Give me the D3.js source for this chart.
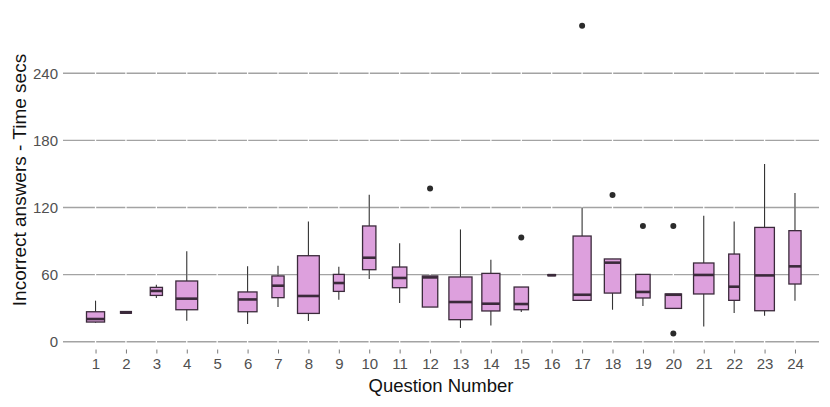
<!DOCTYPE html>
<html>
<head>
<meta charset="utf-8">
<script src="https://cdn.jsdelivr.net/npm/d3@7"></script>
<style>
  body { margin: 0; background: #fff; }
  text { font-family: "Liberation Sans", Arial, sans-serif; }
</style>
</head>
<body>
<figure id="chart" style="margin:0"></figure>
<script>
// data (seconds); null = no answers for that question
var questions = d3.range(1, 25);
var counts   = [11, 4, 5, 16, 0, 12, 5, 16, 4, 6, 7, 8, 18, 11, 7, 2, 11, 9, 7, 9, 14, 4, 13, 5];
var whiskLo  = [17, 25.5, 39, 18.8, null, 15.8, 31, 18.5, 37.6, 56, 34.6, 31, 12.3, 14.6, 26.6, 59, 37, 28.6, 32, 29.8, 13.7, 25.7, 23.3, 36.7];
var q1       = [17.6, 25.5, 41.4, 28.6, null, 26.8, 39.4, 25.3, 45, 64.4, 48.3, 31, 19.7, 27.5, 28.6, 59, 37, 43.5, 39.1, 29.8, 42.7, 37, 27.7, 51.6];
var medians  = [20.3, 26, 45.4, 38.5, null, 37.8, 50.1, 40.9, 52.5, 75.1, 57, 57.5, 35.5, 34, 33.7, 59.5, 42, 70.7, 44.5, 42, 59.7, 49.2, 59.3, 67.4];
var q3       = [26.8, 27, 48.6, 54.3, null, 44.5, 58.8, 76.9, 60.2, 103.5, 66.8, 58.8, 57.9, 61.1, 48.9, 60, 94.5, 74, 60.2, 42.7, 70.4, 78.4, 102.2, 99.3];
var whiskHi  = [36.7, 27, 51, 81, null, 67.4, 68, 107.6, 67, 131.5, 88, 58.8, 100.4, 73.3, 48.9, 60, 120, 74, 60.2, 42.7, 112.7, 107.6, 159, 133];
var outliers = [
    { q: 12, v: 136.9 },
    { q: 15, v: 93.3 },
    { q: 17, v: 282.6 },
    { q: 18, v: 131.2 },
    { q: 19, v: 103.5 },
    { q: 20, v: 103.5 },
    { q: 20, v: 7.4 }
];
var yTicks = [0, 60, 120, 180, 240];

var boxes = questions.map(function(q, i) {
    return { q: q, n: counts[i], lo: whiskLo[i], q1: q1[i], med: medians[i], q3: q3[i], hi: whiskHi[i] };
}).filter(d => d.n > 0);

var dimensions = { width: 830, height: 407, left: 63, right: 819, top: 10, bottom: 350 };

var svg = d3.select("figure#chart")
    .append("svg")
    .attr("width", dimensions.width)
    .attr("height", dimensions.height);

var xScale = d3.scaleLinear()
    .domain([-0.07, 24.79])
    .range([dimensions.left, dimensions.right]);

var yScale = d3.scaleLinear()
    .domain([-7.4, 296.6])
    .range([dimensions.bottom, dimensions.top]);

var step = xScale(2) - xScale(1);
var widthScale = d3.scaleSqrt()
    .domain([0, d3.max(counts)])
    .range([0, step * 0.76]);

// horizontal grid
svg.append("g")
    .selectAll("line")
    .data(yTicks)
    .enter()
    .append("line")
    .attr("x1", dimensions.left)
    .attr("x2", dimensions.right)
    .attr("y1", d => yScale(d))
    .attr("y2", d => yScale(d))
    .attr("stroke", "#a3a3a3")
    .attr("stroke-width", 1.4);

// white vertical grid cutting the horizontal lines
svg.append("g")
    .selectAll("line")
    .data(questions)
    .enter()
    .append("line")
    .attr("x1", d => xScale(d))
    .attr("x2", d => xScale(d))
    .attr("y1", dimensions.top)
    .attr("y2", dimensions.bottom)
    .attr("stroke", "#fff")
    .attr("stroke-width", 1.3);

// axes
var xAxis = svg.append("g")
    .attr("transform", `translate(0, ${dimensions.bottom})`)
    .call(d3.axisBottom(xScale).tickValues(questions).tickFormat(d3.format("d")).tickSize(4).tickPadding(4));
xAxis.select(".domain").remove();
xAxis.selectAll("line").attr("stroke", "#7a7a7a").attr("transform", "translate(0,-0.5)");
xAxis.selectAll("text").attr("fill", "#505050").attr("font-size", "15px").attr("font-family", "Liberation Sans, Arial, sans-serif");

var yAxis = svg.append("g")
    .attr("transform", `translate(${dimensions.left}, 0)`)
    .call(d3.axisLeft(yScale).tickValues(yTicks).tickSize(0).tickPadding(5));
yAxis.select(".domain").remove();
yAxis.selectAll("text").attr("fill", "#505050").attr("font-size", "15px").attr("font-family", "Liberation Sans, Arial, sans-serif");

// whiskers
var boxG = svg.append("g");
boxG.selectAll("line.whisk")
    .data(boxes)
    .enter()
    .append("line")
    .attr("class", "whisk")
    .attr("x1", d => xScale(d.q))
    .attr("x2", d => xScale(d.q))
    .attr("y1", d => yScale(d.lo))
    .attr("y2", d => yScale(d.hi))
    .attr("stroke", "#333")
    .attr("stroke-width", 1.1);

// boxes
boxG.selectAll("rect")
    .data(boxes)
    .enter()
    .append("rect")
    .attr("x", d => xScale(d.q) - widthScale(d.n) / 2)
    .attr("width", d => widthScale(d.n))
    .attr("y", d => yScale(d.q3))
    .attr("height", d => yScale(d.q1) - yScale(d.q3))
    .attr("fill", "#dda0dd")
    .attr("stroke", "#3b2a3b")
    .attr("stroke-width", 1.3);

// medians
boxG.selectAll("line.med")
    .data(boxes)
    .enter()
    .append("line")
    .attr("class", "med")
    .attr("x1", d => xScale(d.q) - widthScale(d.n) / 2)
    .attr("x2", d => xScale(d.q) + widthScale(d.n) / 2)
    .attr("y1", d => yScale(d.med))
    .attr("y2", d => yScale(d.med))
    .attr("stroke", "#3b2a3b")
    .attr("stroke-width", 2.6);

// outliers
svg.append("g")
    .selectAll("circle")
    .data(outliers)
    .enter()
    .append("circle")
    .attr("cx", d => xScale(d.q))
    .attr("cy", d => yScale(d.v))
    .attr("r", 3)
    .attr("fill", "#2b2b2b");

// axis titles
svg.append("text")
    .attr("x", (dimensions.left + dimensions.right) / 2)
    .attr("y", 392)
    .attr("text-anchor", "middle")
    .attr("font-size", "18.5px")
    .attr("fill", "#111")
    .text("Question Number");

svg.append("text")
    .attr("transform", `translate(26, ${(dimensions.top + dimensions.bottom) / 2}) rotate(-90)`)
    .attr("text-anchor", "middle")
    .attr("font-size", "19px")
    .attr("fill", "#111")
    .text("Incorrect answers - Time secs");
</script>
</body>
</html>
